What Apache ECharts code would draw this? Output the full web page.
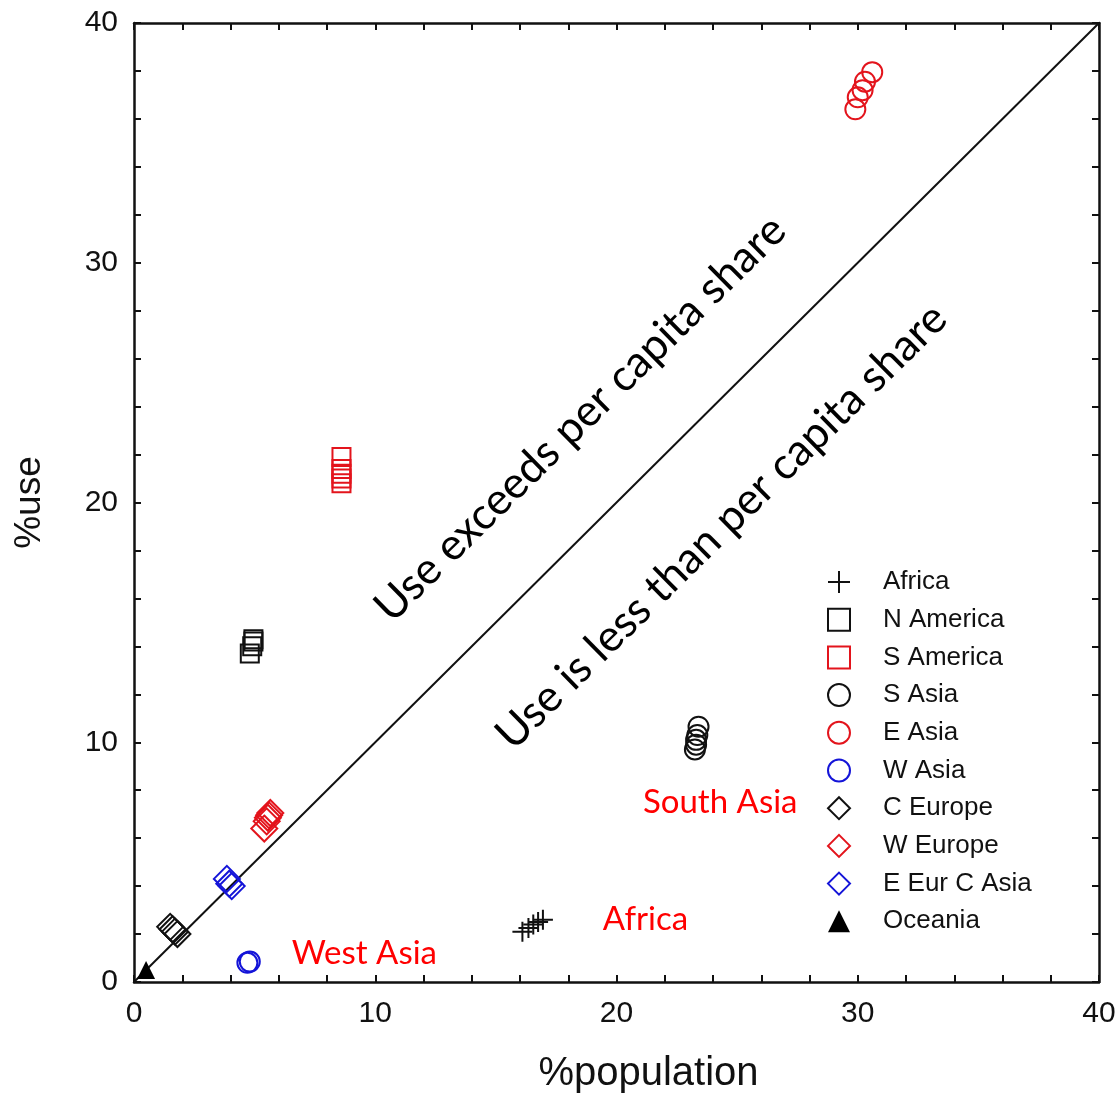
<!DOCTYPE html>
<html lang="en">
<head>
<meta charset="UTF-8">
<title>%use vs %population</title>
<script src="https://cdn.jsdelivr.net/npm/echarts@6/dist/echarts.min.js"></script>
<style>html,body{margin:0;padding:0;background:#fff}</style>
</head>
<body>
<div id="main" style="width:1118px;height:1096px"></div>
<script>
// values: [%population, %use]
var africa    = [[16.1, 2.1], [16.35, 2.25], [16.55, 2.4], [16.75, 2.5], [16.95, 2.6]];
var nAmerica  = [[4.8, 13.7], [4.9, 14.0], [4.95, 14.2], [4.95, 14.3]];
var sAmerica  = [[8.6, 20.8], [8.6, 21.0], [8.6, 21.2], [8.6, 21.4], [8.6, 21.9]];
var sAsia     = [[23.25, 9.7], [23.3, 9.9], [23.3, 10.1], [23.35, 10.3], [23.4, 10.65]];
var eAsia     = [[29.9, 36.4], [30.0, 36.9], [30.2, 37.2], [30.3, 37.55], [30.6, 37.95]];
var wAsia     = [[4.7, 0.8], [4.8, 0.85]];
var cEurope   = [[1.5, 2.3], [1.6, 2.2], [1.7, 2.1], [1.8, 2.0]];
var wEurope   = [[5.4, 6.4], [5.5, 6.7], [5.55, 6.85], [5.6, 6.95], [5.65, 7.05]];
var eEurCAsia = [[3.85, 4.3], [3.95, 4.1], [4.05, 4.0]];
var oceania   = [[0.5, 0.5]];
var parity    = [[0, 0], [40, 40]];

var regionNames = ['Africa', 'N America', 'S America', 'S Asia', 'E Asia', 'W Asia',
                   'C Europe', 'W Europe', 'E Eur C Asia', 'Oceania'];

// annotations placed in data coordinates
var notes = [
    {text: 'Use exceeds per capita share', at: [18.5, 23.5], color: '#000', size: 44, rot: 44.6},
    {text: 'Use is less than per capita share', at: [24.35, 19.0], color: '#000', size: 44, rot: 44.6},
    {text: 'South Asia', at: [24.3, 7.5], color: '#ff0000', size: 33, rot: 0},
    {text: 'Africa', at: [21.2, 2.6], color: '#ff0000', size: 33, rot: 0},
    {text: 'West Asia', at: [9.55, 1.2], color: '#ff0000', size: 33, rot: 0}
];

var plusPath = 'path://M0,10 L20,10 M10,0 L10,20';

function pts(name, data, symbol, size, stroke, fill) {
    return {
        name: name,
        type: 'scatter',
        data: data,
        symbol: symbol,
        symbolSize: size,
        itemStyle: {
            color: fill || 'transparent',
            borderColor: stroke,
            borderWidth: fill ? 0 : 2,
            opacity: 1
        },
        z: 3
    };
}

var myChart = echarts.init(document.getElementById('main'));

var tickStyle = {show: true, inside: true, length: 7, lineStyle: {color: '#111', width: 2}};
var minorStyle = {show: true, splitNumber: 5, length: 7, lineStyle: {color: '#111', width: 2}};
var lineStyle = {show: true, onZero: false, lineStyle: {color: '#111', width: 2.5}};

var option = {
    animation: false,
    backgroundColor: '#fff',
    grid: {left: 134, right: 19, top: 23, bottom: 114, containLabel: false, outerBoundsMode: 'none'},
    xAxis: [{
        type: 'value', min: 0, max: 40, interval: 10,
        name: '%population', nameLocation: 'middle', nameGap: 72,
        nameTextStyle: {fontFamily: 'Liberation Sans', fontSize: 40, color: '#111', padding: [0, 0, 0, 64]},
        axisLine: lineStyle, axisTick: tickStyle, minorTick: minorStyle,
        splitLine: {show: false},
        axisLabel: {fontFamily: 'Liberation Sans', fontSize: 30, color: '#111', margin: 17}
    }, {
        type: 'value', position: 'top', min: 0, max: 40, interval: 10,
        axisLine: lineStyle, axisTick: tickStyle, minorTick: minorStyle,
        splitLine: {show: false}, axisLabel: {show: false}
    }],
    yAxis: [{
        type: 'value', min: 0, max: 40, interval: 10,
        name: '%use', nameLocation: 'middle', nameGap: 86,
        nameTextStyle: {fontFamily: 'Liberation Sans', fontSize: 37, color: '#111'},
        axisLine: lineStyle, axisTick: tickStyle, minorTick: minorStyle,
        splitLine: {show: false},
        axisLabel: {fontFamily: 'Liberation Sans', fontSize: 30, color: '#111', margin: 16}
    }, {
        type: 'value', position: 'right', min: 0, max: 40, interval: 10,
        axisLine: lineStyle, axisTick: tickStyle, minorTick: minorStyle,
        splitLine: {show: false}, axisLabel: {show: false}
    }],
    legend: {
        data: regionNames,
        orient: 'vertical',
        left: 822, top: 564,
        itemWidth: 22, itemHeight: 22, itemGap: 11.7,
        textStyle: {fontFamily: 'Liberation Sans', fontSize: 26, color: '#111', padding: [0, 0, 0, 28]},
        selectedMode: false
    },
    series: [
        {
            name: 'parity', type: 'line', data: parity, symbol: 'none',
            lineStyle: {color: '#111', width: 2}, z: 1, silent: true
        },
        pts('Africa', africa, plusPath, 20, '#111'),
        pts('N America', nAmerica, 'rect', 18, '#111'),
        pts('S America', sAmerica, 'rect', 18, '#e3141c'),
        pts('S Asia', sAsia, 'circle', 20, '#111'),
        pts('E Asia', eAsia, 'circle', 20, '#e3141c'),
        pts('W Asia', wAsia, 'circle', 20, '#1414d8'),
        pts('C Europe', cEurope, 'diamond', 26, '#111'),
        pts('W Europe', wEurope, 'diamond', 26, '#e3141c'),
        pts('E Eur C Asia', eEurCAsia, 'diamond', 26, '#1414d8'),
        pts('Oceania', oceania, 'triangle', 18, '#000', '#000')
    ]
};

myChart.setOption(option);

var graphics = notes.map(function (n) {
    var p = myChart.convertToPixel({gridIndex: 0}, n.at);
    return {
        type: 'text',
        x: p[0], y: p[1],
        rotation: n.rot * Math.PI / 180,
        style: {
            text: n.text,
            fill: n.color,
            font: n.size + 'px Lato',
            align: 'center',
            verticalAlign: 'middle'
        },
        z: 5
    };
});
myChart.setOption({graphic: graphics});
</script>
</body>
</html>
